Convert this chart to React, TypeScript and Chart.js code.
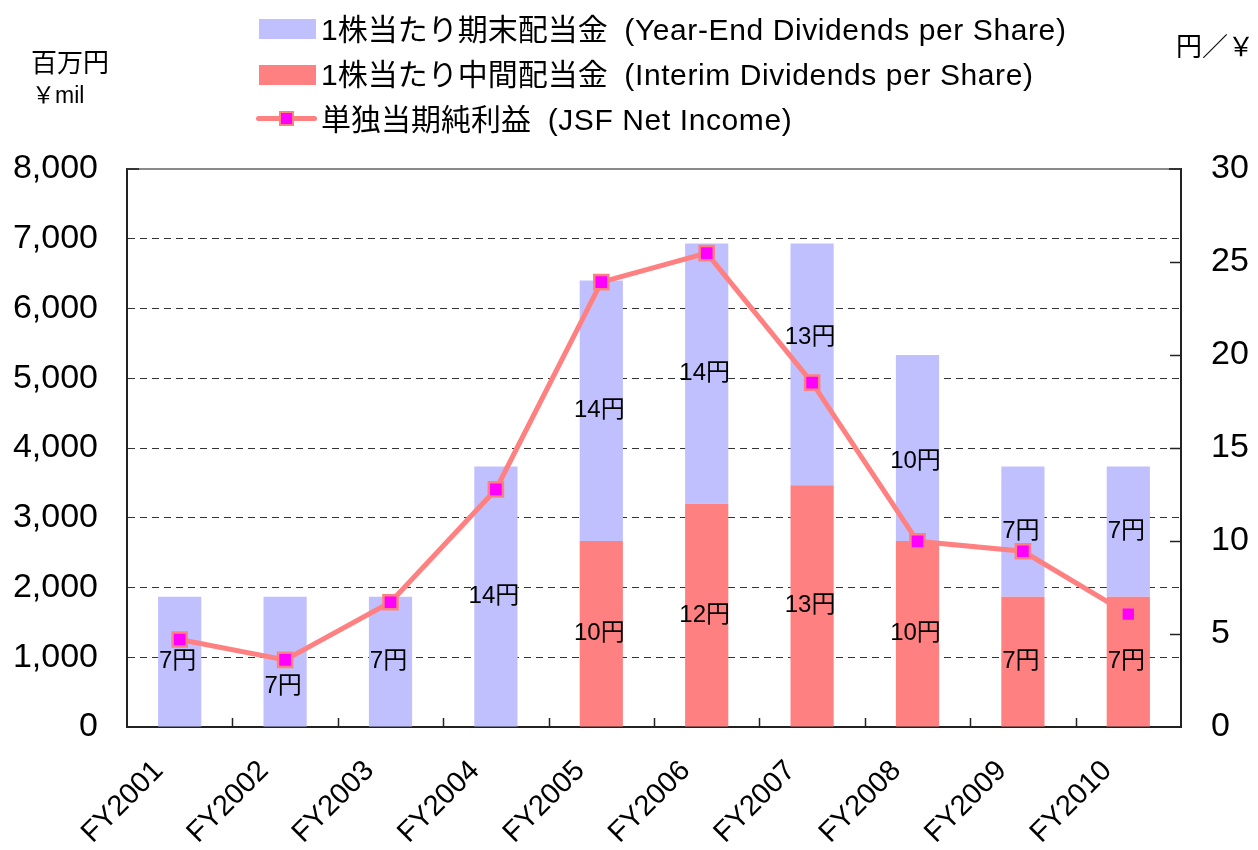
import React, { useEffect, useRef } from "react";
import { Chart, registerables } from "chart.js";

Chart.register(...registerables);

// ---- data ----
const categories = ["FY2001", "FY2002", "FY2003", "FY2004", "FY2005", "FY2006", "FY2007", "FY2008", "FY2009", "FY2010"];
const interimDividends = [0, 0, 0, 0, 10, 12, 13, 10, 7, 7];
const yearEndDividends = [7, 7, 7, 14, 14, 14, 13, 10, 7, 7];
const netIncome = [1255, 963, 1789, 3406, 6379, 6794, 4937, 2662, 2519, 1617];
const leftTicks = { min: 0, max: 8000, step: 1000 };
const rightTicks = { min: 0, max: 30, step: 5 };

const legendYearEnd = "1株当たり期末配当金";
const legendYearEndEn = "(Year-End Dividends per Share)";
const legendInterim = "1株当たり中間配当金";
const legendInterimEn = "(Interim Dividends per Share)";
const legendIncome = "単独当期純利益";
const legendIncomeEn = "(JSF Net Income)";
const leftUnitJa = "百万円";
const leftUnitEn = "￥mil";
const rightUnit = "円／￥";
const labelSuffix = "円";

// ---- styles ----
const COLOR_YEAR_END = "#C0C0FF";
const COLOR_INTERIM = "#FF8080";
const COLOR_LINE = "#FF8080";
const COLOR_MARKER = "#FF00FF";
const LATIN = '"Liberation Sans", Arial, sans-serif';
const MIXED = '"Liberation Sans", Arial, "Noto Sans CJK JP", sans-serif';
// pixel nudges for the year-end value labels (to keep them clear of the line)
const yearEndLabelNudgePx = [0, 25, 0, 0, 0, 0, -27, 13, 0, 0];

const framePlugin = {
  id: "frameAndTicks",
  afterDraw(chart: any) {
    const { ctx, chartArea } = chart;
    const { left, right, top, bottom } = chartArea;
    ctx.save();
    // top frame line (gray)
    ctx.strokeStyle = "#8a8a8a";
    ctx.lineWidth = 2;
    ctx.beginPath();
    ctx.moveTo(left, top);
    ctx.lineTo(right, top);
    ctx.stroke();
    ctx.strokeStyle = "#333";
    ctx.beginPath();
    ctx.moveTo(left, top);
    ctx.lineTo(left + 12, top);
    ctx.moveTo(right - 12, top);
    ctx.lineTo(right, top);
    ctx.stroke();
    // inward ticks on x axis at category boundaries
    const xs = chart.scales.x;
    ctx.lineWidth = 1.5;
    ctx.strokeStyle = "#222";
    ctx.beginPath();
    for (let i = 1; i < categories.length; i++) {
      const p = (xs.getPixelForValue(i - 1) + xs.getPixelForValue(i)) / 2;
      ctx.moveTo(Math.round(p) + 0.5, bottom);
      ctx.lineTo(Math.round(p) + 0.5, bottom - 9);
    }
    // inward ticks on right axis
    const yr = chart.scales.y1;
    for (let v = rightTicks.min + rightTicks.step; v < rightTicks.max; v += rightTicks.step) {
      const py = Math.round(yr.getPixelForValue(v)) + 0.5;
      ctx.moveTo(right, py);
      ctx.lineTo(right - 11, py);
    }
    ctx.stroke();
    ctx.restore();
  },
};

const labelPlugin = {
  id: "segmentLabels",
  afterDatasetsDraw(chart: any) {
    const { ctx } = chart;
    ctx.save();
    ctx.font = `24px ${MIXED}`;
    ctx.fillStyle = "#000";
    ctx.textAlign = "center";
    ctx.textBaseline = "middle";
    [0, 1].forEach((di) => {
      const meta = chart.getDatasetMeta(di);
      const values = chart.data.datasets[di].data as number[];
      meta.data.forEach((el: any, i: number) => {
        const v = values[i];
        if (!v) return;
        const nudge = di === 1 ? yearEndLabelNudgePx[i] : 0;
        const cy = (el.y + el.base) / 2 + nudge;
        ctx.fillText(`${v}${labelSuffix}`, el.x - 2, cy);
      });
    });
    ctx.restore();
  },
};

function ChartCanvas() {
  const ref = useRef<HTMLCanvasElement | null>(null);
  useEffect(() => {
    if (!ref.current) return;
    const chart = new Chart(ref.current, {
      type: "bar",
      data: {
        labels: categories,
        datasets: [
          {
            type: "bar",
            label: legendInterim,
            data: interimDividends,
            backgroundColor: COLOR_INTERIM,
            yAxisID: "y1",
            stack: "div",
            order: 1,
            barPercentage: 0.41,
            categoryPercentage: 1,
          },
          {
            type: "bar",
            label: legendYearEnd,
            data: yearEndDividends,
            backgroundColor: COLOR_YEAR_END,
            yAxisID: "y1",
            stack: "div",
            order: 2,
            barPercentage: 0.41,
            categoryPercentage: 1,
          },
          {
            type: "line",
            label: legendIncome,
            data: netIncome,
            yAxisID: "y",
            order: 0,
            borderColor: COLOR_LINE,
            borderWidth: 5,
            tension: 0,
            pointStyle: "rect",
            pointRadius: netIncome.map((_, i) => (i === netIncome.length - 1 ? 8 : 10)),
            pointBackgroundColor: COLOR_MARKER,
            pointBorderColor: COLOR_LINE,
            pointBorderWidth: netIncome.map((_, i) => (i === netIncome.length - 1 ? 0 : 2.5)),
          } as any,
        ],
      },
      options: {
        responsive: false,
        devicePixelRatio: 1,
        animation: false,
        layout: { padding: { top: 169, left: 0, right: 0, bottom: 0 } },
        plugins: { legend: { display: false }, tooltip: { enabled: false } },
        scales: {
          x: {
            type: "category",
            offset: true,
            grid: { display: false, drawTicks: false },
            border: { display: true, color: "#222", width: 2 },
            ticks: {
              color: "#000",
              font: { family: LATIN, size: 29 },
              maxRotation: 45,
              minRotation: 45,
              padding: 27,
              labelOffset: -21,
              autoSkip: false,
            },
            afterFit(scale: any) {
              scale.height = 123;
            },
          },
          y: {
            type: "linear",
            position: "left",
            min: leftTicks.min,
            max: leftTicks.max,
            ticks: {
              stepSize: leftTicks.step,
              color: "#000",
              font: { family: LATIN, size: 34 },
              padding: 29,
              callback: (v: any) => Number(v).toLocaleString("en-US"),
            },
            grid: { color: "#333", lineWidth: 1, drawTicks: false },
            border: { display: true, color: "#222", width: 2, dash: [7, 5] },
            afterFit(scale: any) {
              scale.width = 127;
            },
          },
          y1: {
            type: "linear",
            position: "right",
            stacked: true,
            min: rightTicks.min,
            max: rightTicks.max,
            ticks: {
              stepSize: rightTicks.step,
              color: "#000",
              font: { family: LATIN, size: 34 },
              padding: 30,
            },
            grid: { drawOnChartArea: false, drawTicks: false },
            border: { display: true, color: "#222", width: 2 },
            afterFit(scale: any) {
              scale.width = 77;
            },
          },
        },
      } as any,
      plugins: [framePlugin, labelPlugin],
    });
    return () => chart.destroy();
  }, []);
  return <canvas ref={ref} width={1258} height={850} style={{ display: "block", width: 1258, height: 850 }} />;
}

const abs = (left: number, top: number, extra: React.CSSProperties = {}): React.CSSProperties => ({
  position: "absolute",
  left,
  top,
  ...extra,
});

function LegendText({ ja, en, top }: { ja: string; en: string; top: number }) {
  return (
    <div
      style={abs(321, top, {
        height: 36,
        lineHeight: "36px",
        fontSize: 30,
        fontFamily: MIXED,
        whiteSpace: "pre",
        color: "#000",
      })}
    >
      {ja}
      {"  "}
      <span style={{ letterSpacing: 0.6 }}>{en}</span>
    </div>
  );
}

export default function App() {
  return (
    <div style={{ position: "absolute", left: 0, top: 0, width: 1258, height: 850, background: "#fff", overflow: "hidden" }}>
      <ChartCanvas />
      {/* units */}
      <div style={abs(31, 45, { fontSize: 26, lineHeight: "32px", fontFamily: '"Noto Sans CJK JP", sans-serif', whiteSpace: "pre" })}>{leftUnitJa}</div>
      <div style={abs(32, 80, { fontSize: 23, lineHeight: "30px", fontFamily: MIXED, whiteSpace: "pre" })}>{leftUnitEn}</div>
      <div style={abs(1176, 29, { fontSize: 26, lineHeight: "32px", fontFamily: '"Noto Sans CJK JP", sans-serif', whiteSpace: "pre" })}>{rightUnit}</div>
      {/* legend */}
      <div style={abs(259, 19, { width: 57, height: 20, background: COLOR_YEAR_END })} />
      <LegendText ja={legendYearEnd} en={legendYearEndEn} top={12} />
      <div style={abs(259, 65, { width: 57, height: 20, background: COLOR_INTERIM })} />
      <LegendText ja={legendInterim} en={legendInterimEn} top={57} />
      <div style={abs(256, 116, { width: 61, height: 5, borderRadius: 3, background: COLOR_LINE })} />
      <div
        style={abs(279, 111, {
          width: 15,
          height: 15,
          boxSizing: "border-box",
          border: `2.5px solid ${COLOR_LINE}`,
          background: COLOR_MARKER,
        })}
      />
      <LegendText ja={legendIncome} en={legendIncomeEn} top={102} />
    </div>
  );
}
